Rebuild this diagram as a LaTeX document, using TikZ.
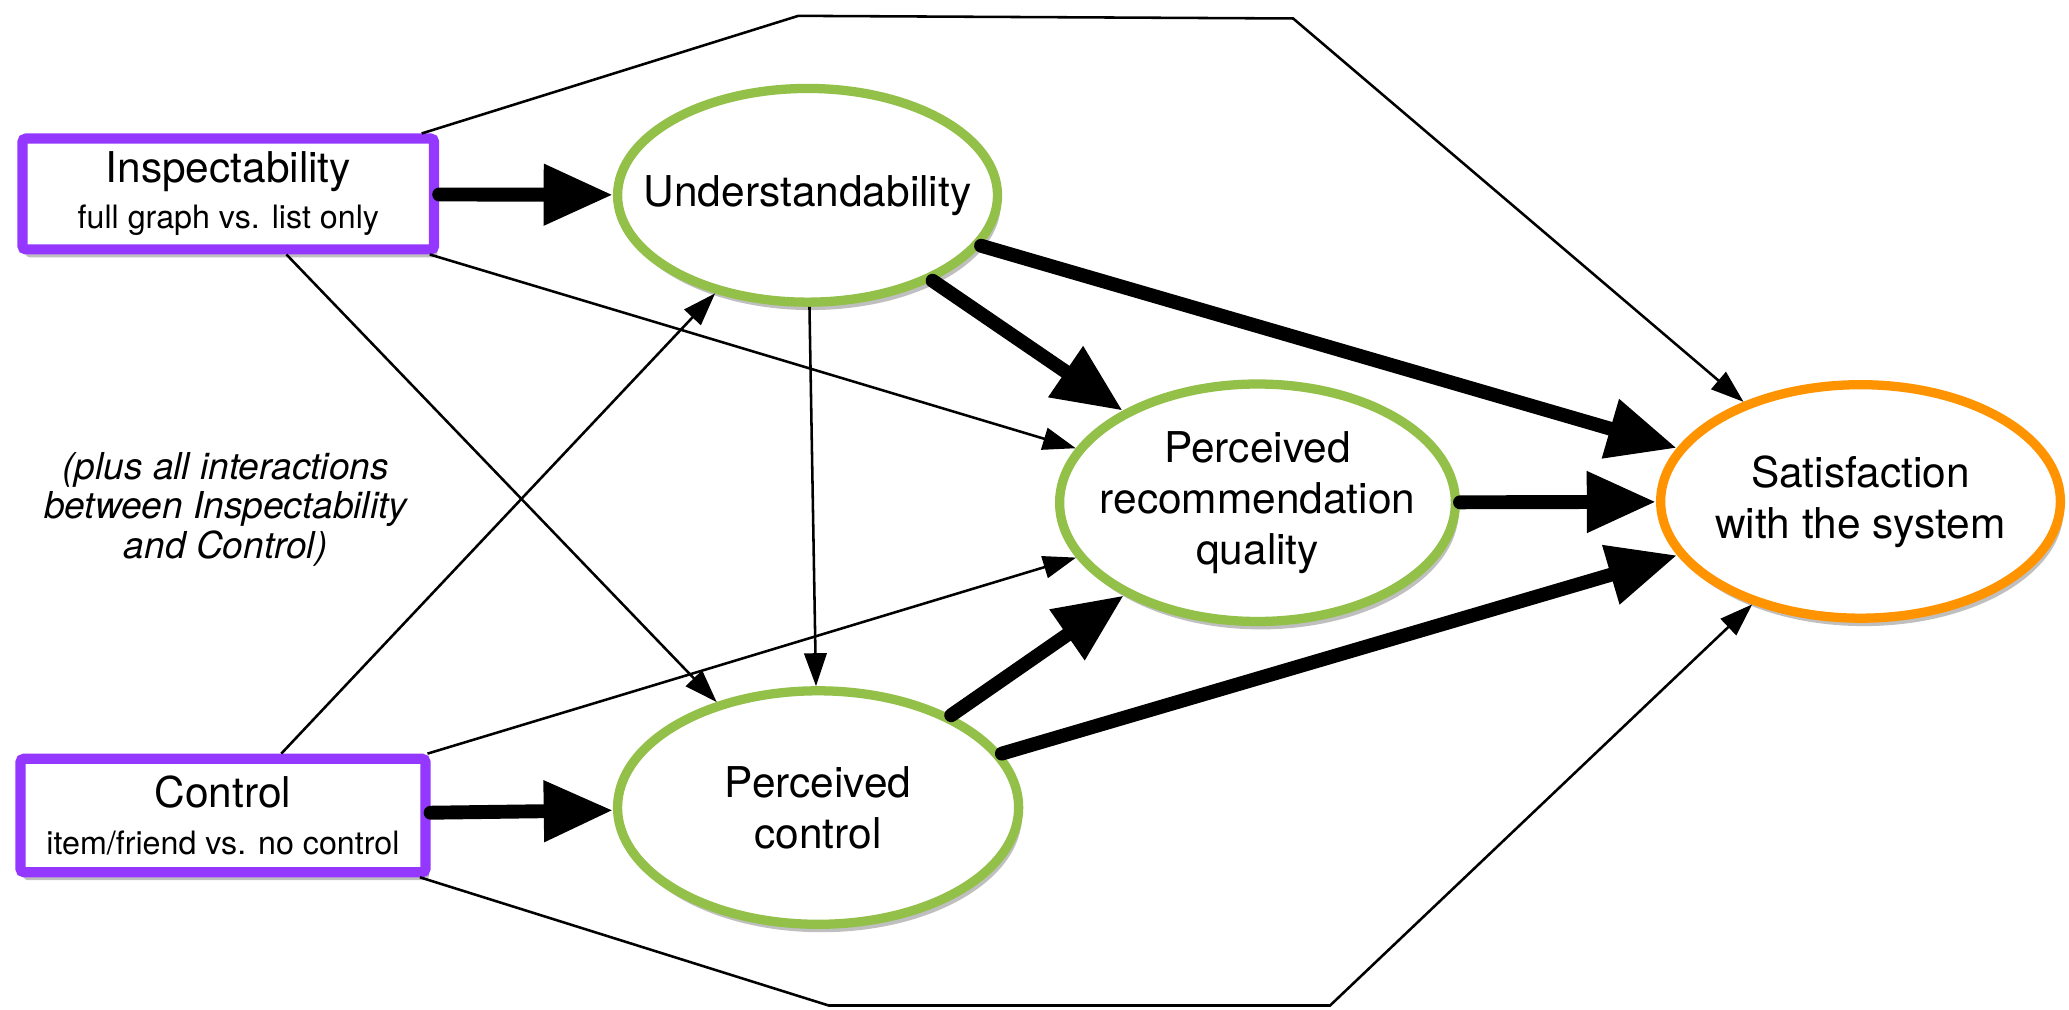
\documentclass[tikz,border=0pt]{standalone}
\usepackage{fontspec}
\setmainfont{TeX Gyre Heros}
\usetikzlibrary{arrows.meta,shapes.geometric,shadows}
\definecolor{manippurple}{RGB}{148,55,255}
\definecolor{latentgreen}{RGB}{146,192,72}
\definecolor{outcomeorange}{RGB}{255,147,0}
\newcommand{\mainsize}{\fontsize{18.3}{21.9}\selectfont}
\newcommand{\subsize}{\fontsize{13.9}{16.5}\selectfont}
\tikzset{
  softshadow/.style={drop shadow={shadow xshift=0.05cm,shadow yshift=-0.12cm,opacity=0.25,fill=black}},
  manip/.style={rectangle, draw=manippurple, line width=4.4pt, fill=white, rounded corners=1.5pt,
    align=center, inner sep=0pt, font=\mainsize, softshadow},
  latent/.style={ellipse, draw=latentgreen, line width=4pt, fill=white,
    align=center, inner sep=-3cm, font=\mainsize, softshadow},
  bigarrow/.style={line width=6pt, line cap=round, -{Triangle[length=1.05cm,width=0.88cm]}},
  smallarrow/.style={line width=1.1pt, -{Triangle[length=0.5cm,width=0.34cm]}}
}
\begin{document}
\begin{tikzpicture}[x=0.02cm,y=-0.02cm]
  \useasboundingbox (0,0) rectangle (1568,765);
  % manipulations
  \node[manip, minimum width=6.24cm, minimum height=1.68cm] (insp) at (173,147)
    {Inspectability\\[-2pt]{\subsize full graph vs. list only}};
  \node[manip, minimum width=6.14cm, minimum height=1.72cm] (ctrl) at (169,618)
    {Control\\[-2pt]{\subsize item/friend vs. no control}};
  % latent constructs
  \node[latent, minimum width=5.76cm, minimum height=3.24cm] (und) at (612,148) {Understandability};
  \node[latent, minimum width=6.08cm, minimum height=3.54cm] (pc) at (620,612) {Perceived\\control};
  \node[latent, minimum width=6.0cm, minimum height=3.6cm] (prq) at (953,381)
    {Perceived\\recommendation\\quality};
  \node[latent, draw=outcomeorange, minimum width=6.06cm, minimum height=3.54cm] (sat) at (1410,380)
    {Satisfaction\\with the system};
  \node[align=center, font=\fontsize{16}{17.2}\selectfont\itshape] (note) at (171,386)
    {(plus all interactions\\between Inspectability\\and Control)};
  \coordinate (topL) at (605,12);
  \coordinate (topR) at (980,14);
  \coordinate (botL) at (628,762);
  \coordinate (botR) at (1008,762);

  \path[smallarrow]
    (insp) edge (prq)
    (insp) edge (pc)
    (ctrl) edge (und)
    (ctrl) edge (prq)
    (und) edge (pc);
  \draw[smallarrow] (insp) -- (topL) -- (topR) -- (sat);
  \draw[smallarrow] (ctrl) -- (botL) -- (botR) -- (sat);

  \path[bigarrow]
    (insp) edge (und)
    (ctrl) edge (pc)
    (und) edge (prq)
    (und) edge (sat)
    (pc) edge (prq)
    (pc) edge (sat)
    (prq) edge (sat);
\end{tikzpicture}
\end{document}
